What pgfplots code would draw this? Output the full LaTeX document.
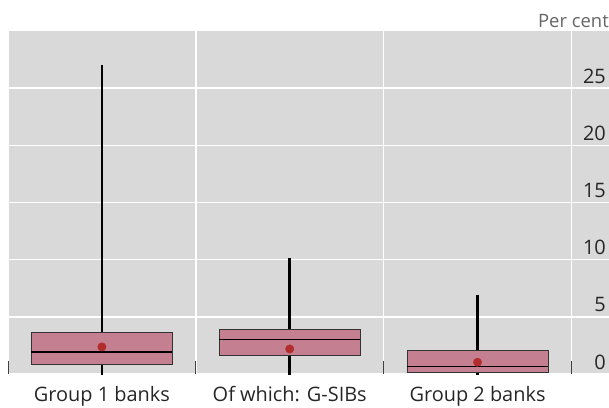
\documentclass[border=0pt]{standalone}
\usepackage{fontspec}
\setmainfont{Open Sans}
\usepackage{pgfplots}
\pgfplotsset{compat=1.18}
\usepgfplotslibrary{statistics}
\definecolor{bg}{RGB}{217,217,217}
\definecolor{boxfill}{RGB}{196,128,144}
\definecolor{meanred}{RGB}{178,44,44}
\begin{document}
\begin{tikzpicture}[x=1bp,y=1bp]
\useasboundingbox (0,0) rectangle (609,407);
\begin{axis}[
  at={(8bp,33bp)}, anchor=south west,
  scale only axis, width=601bp, height=343bp,
  xmin=-0.5, xmax=2.7, ymin=0, ymax=30,
  axis background/.style={fill=bg},
  axis line style={draw=none},
  /pgf/number format/assume math mode=true,
  tick label style={font=\fontsize{20}{22}\selectfont, text=black!85},
  xtick={0,1,2},
  xticklabels={Group 1 banks, Of which: G-SIBs, Group 2 banks},
  xticklabel style={anchor=base, yshift=-27bp},
  major x tick style={draw=none},
  extra x ticks={-0.5,0.5,1.5,2.5},
  extra x tick labels={},
  extra x tick style={grid=major, major x tick style={draw=black!75, line width=1bp}, major tick length=13bp, tick align=inside, xtick pos=left},
  ytick={0,5,10,15,20,25},
  ymajorgrids=true,
  grid style={white, line width=1.5bp},
  ytick pos=right, yticklabel pos=right,
  major y tick style={draw=none},
  yticklabel style={anchor=east, inner xsep=1bp, xshift=-2bp, yshift=12bp},
  boxplot/draw direction=y,
]
\addplot[fill=boxfill, draw=black!80, line width=0.8bp,
  boxplot prepared={draw position=0, lower whisker=-1, lower quartile=0.8, median=1.93, upper quartile=3.67, upper whisker=27, box extend=0.75, whisker extend=0,
  every whisker/.style={black, line width=2.8bp}, every median/.style={black, line width=1.2bp}}] coordinates {};
\addplot[fill=boxfill, draw=black!80, line width=0.8bp,
  boxplot prepared={draw position=1, lower whisker=-1, lower quartile=1.67, median=3.03, upper quartile=3.93, upper whisker=10.13, box extend=0.75, whisker extend=0,
  every whisker/.style={black, line width=2.8bp}, every median/.style={black, line width=1.2bp}}] coordinates {};
\addplot[fill=boxfill, draw=black!80, line width=0.8bp,
  boxplot prepared={draw position=2, lower whisker=-1, lower quartile=0.17, median=0.69, upper quartile=2.04, upper whisker=6.9, box extend=0.75, whisker extend=0,
  every whisker/.style={black, line width=2.8bp}, every median/.style={black, line width=1.2bp}}] coordinates {};
\addplot[only marks, mark=*, mark size=4.2bp, mark options={fill=meanred, draw=meanred}] coordinates {(0,2.37) (1,2.19) (2,1.03)};
\end{axis}
\node[anchor=base east, inner sep=0pt, font=\fontsize{18.5}{20}\selectfont, text=black!60] at (609,380) {Per cent};
\end{tikzpicture}
\end{document}
